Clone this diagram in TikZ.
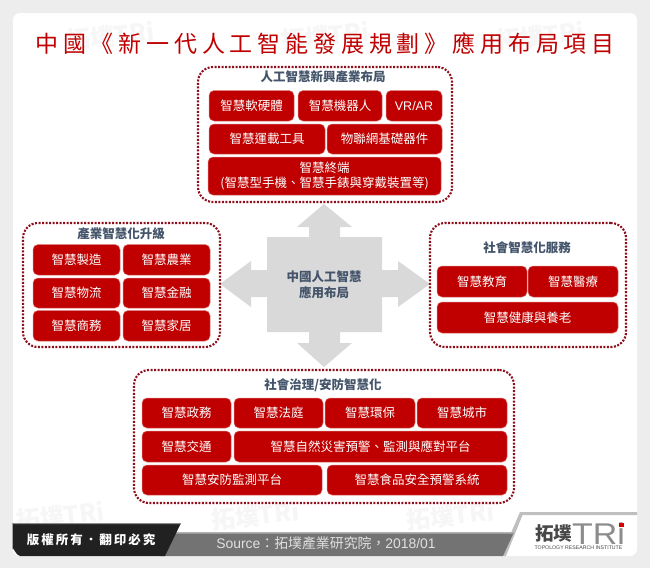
\documentclass[tikz,border=0pt]{standalone}
\usepackage{fontspec}
\setmainfont{Noto Sans CJK TC}
\newfontfamily\latinf{Liberation Sans}
\newfontfamily\titlef[LetterSpace=21]{Noto Sans CJK TC}
\newfontfamily\copyf[LetterSpace=16]{Noto Sans CJK TC}
\definecolor{trired}{HTML}{C00000}
\definecolor{slate}{HTML}{44546A}
\definecolor{dotred}{HTML}{8E0F1C}
\definecolor{crossgray}{HTML}{D9D9D9}
\definecolor{pagegray}{HTML}{EDEDED}
\definecolor{wm}{HTML}{F6F6F6}
\tikzset{
  redbox/.style={draw=trired!55!white,line width=.5pt,fill=trired,rounded corners=5pt,text=white,
    font=\fontsize{12.5}{15.5}\selectfont,align=center,inner sep=0pt,outer sep=0pt},
  groupbox/.style={draw=dotred,line width=2.1pt,dash pattern=on 2pt off 1.5pt,rounded corners=15pt,fill=white,
    inner sep=0pt,outer sep=0pt},
  grouptitle/.style={text=slate,font=\fontsize{12.5}{15}\selectfont\bfseries,inner sep=0pt},
  wmbig/.style={text=wm,font=\fontsize{24}{24}\selectfont\bfseries,inner sep=0pt,rotate=6},
}
\newcommand\rbox[6]{\node[redbox,minimum width={(#4-#2)*1pt},minimum height={(#5-#3)*1pt}] (#1) at ({(#2+#4)/2},{(#3+#5)/2}) {#6};}
\newcommand\gbox[5]{\node[groupbox,minimum width={(#4-#2)*1pt},minimum height={(#5-#3)*1pt}] (#1) at ({(#2+#4)/2},{(#3+#5)/2}) {};}
\begin{document}
\begin{tikzpicture}[x=1pt,y=-1pt]
\useasboundingbox (0,0) rectangle (650,568);
\fill[pagegray] (0,0) rectangle (650,568);
\fill[white,rounded corners=7pt] (13,13) rectangle (637,556);
% watermark
\foreach \wx in {110,325,540}{
  \node[wmbig] at (\wx,36) {拓墣TRi};
}
\foreach \wx in {60,255,450}{
  \node[wmbig] at (\wx,516) {拓墣TRi};
}
% title
\node[text=trired,font=\titlef\fontsize{23}{26}\selectfont,inner sep=0pt] (title) at (325,44)
  {中國《新一代人工智能發展規劃》應用布局項目};
% cross
\fill[crossgray] (324,204) -- (352,227) -- (340,227) -- (340,237) -- (382,237) -- (382,270) -- (398,270)
  -- (398,261) -- (430,284) -- (398,307) -- (398,297) -- (382,297) -- (382,332) -- (340,332) -- (340,343)
  -- (352,343) -- (324,367) -- (297,343) -- (309,343) -- (309,332) -- (267,332) -- (267,297) -- (251,297)
  -- (251,307) -- (220,284) -- (251,261) -- (251,270) -- (267,270) -- (267,237) -- (309,237) -- (309,227)
  -- (297,227) -- cycle;
\node[grouptitle,align=center,font=\fontsize{12.5}{15.5}\selectfont\bfseries] (core) at (324,284.5) {中國人工智慧\\應用布局};
% top group
\gbox{gtop}{198}{67}{452}{202}
\node[grouptitle] (ttop) at (323,77) {人工智慧新興產業布局};
\rbox{a1}{209}{90.5}{294}{121}{智慧軟硬體}
\rbox{a2}{298}{90.5}{382}{121}{智慧機器人}
\rbox{a3}{386}{90.5}{442}{121}{\latinf VR/AR}
\rbox{a4}{209}{124}{325}{154}{智慧運載工具}
\rbox{a5}{327}{124}{442}{154}{物聯網基礎器件}
\rbox{a6}{208}{157}{441}{195}{智慧終端\\(智慧型手機、智慧手錶與穿戴裝置等)}
% left group
\gbox{gleft}{23}{223}{220}{347}
\node[grouptitle] (tleft) at (121,234) {產業智慧化升級};
\rbox{b1}{33}{244.5}{120}{275}{智慧製造}
\rbox{b2}{123}{244.5}{210}{275}{智慧農業}
\rbox{b3}{33}{278}{120}{308}{智慧物流}
\rbox{b4}{123}{278}{210}{308}{智慧金融}
\rbox{b5}{33}{310.5}{120}{341}{智慧商務}
\rbox{b6}{123}{310.5}{210}{341}{智慧家居}
% right group
\gbox{gright}{430}{223}{626}{347}
\node[grouptitle] (tright) at (527,248) {社會智慧化服務};
\rbox{c1}{437}{266}{527}{297}{智慧教育}
\rbox{c2}{528}{266}{618}{297}{智慧醫療}
\rbox{c3}{437}{302}{618}{333}{智慧健康與養老}
% bottom group
\gbox{gbot}{134}{370}{514}{503}
\node[grouptitle] (tbot) at (323,385) {社會治理/安防智慧化};
\rbox{d1}{142}{398}{231}{428}{智慧政務}
\rbox{d2}{234}{398}{323}{428}{智慧法庭}
\rbox{d3}{325}{398}{415}{428}{智慧環保}
\rbox{d4}{417}{398}{507}{428}{智慧城市}
\rbox{d5}{142}{431}{231}{462}{智慧交通}
\rbox{d6}{234}{431}{507}{462}{智慧自然災害預警、監測與應對平台}
\rbox{d7}{142}{465}{322}{495}{智慧安防監測平台}
\rbox{d8}{327}{465}{507}{495}{智慧食品安全預警系統}
% footer
\fill[crossgray!88!black] (520,512) -- (637,512) -- (637,515) -- (522.5,515) -- (506,556) -- (501,556) -- cycle;
\fill[black!55] (170,532) -- (514,532) -- (503,556) -- (160,556) -- cycle;
\fill[black!30] (175,532) -- (514,532) -- (513.4,533.5) -- (175,533.5) -- cycle;
\fill[black!87] (18,523) -- (181,523) -- (165,556) -- (20,556) to[out=180,in=90] (12.5,549) -- (12.5,523) -- cycle;
\fill[black!45] (12.5,523) -- (181,523) -- (180.5,524) -- (12.5,524) -- cycle;
\node[text=white,font=\copyf\fontsize{12.5}{14}\selectfont\bfseries,inner sep=0pt] (copy) at (91,540) {版權所有．翻印必究};
\node[text=black!12,font=\fontsize{13.9}{15}\selectfont,inner sep=0pt] (src) at (326,543.5) {{\latinf Source}：拓墣產業研究院，{\latinf 2018/01}};
% logo
\node[text=black!72,font=\fontsize{18.5}{20}\selectfont\bfseries,inner sep=0pt,anchor=west] (logoa) at (535,533.5) {拓墣};
\node[text=black!45,font=\latinf\fontsize{30}{30}\selectfont,inner sep=0pt,anchor=west,xscale=1.13] (logob) at (572,534) {TRi};
\fill[red!85!black] (619,522.5) rectangle (623.5,527);
\node[text=black!72,font=\latinf\fontsize{5.2}{6}\selectfont,inner sep=0pt] (logoc) at (578.5,547.5) {TOPOLOGY RESEARCH INSTITUTE};
\end{tikzpicture}
\end{document}
